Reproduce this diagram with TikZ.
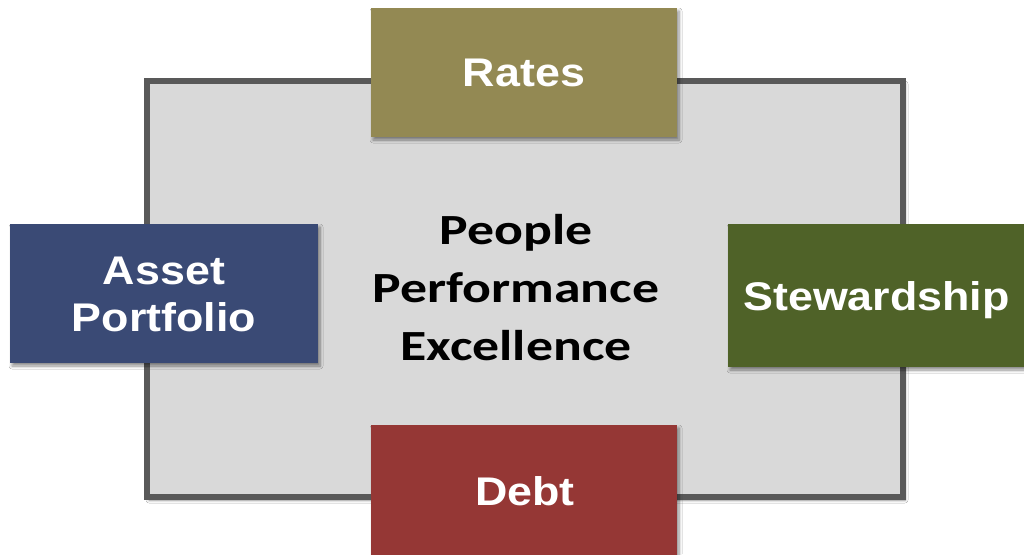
\documentclass[tikz,border=0pt]{standalone}
\usepackage{fontspec}
\usetikzlibrary{shadows.blur}
\newfontfamily\boxfont{Liberation Sans}[FakeStretch=1.12]
\newfontfamily\corefont{Carlito}[FakeStretch=1.25]
\definecolor{frameline}{HTML}{595959}
\definecolor{framefill}{HTML}{D9D9D9}
\definecolor{ratescol}{HTML}{938953}
\definecolor{assetcol}{HTML}{3A4A75}
\definecolor{stewcol}{HTML}{4F6228}
\definecolor{debtcol}{HTML}{953735}
\tikzset{
  softshadow/.style={blur shadow={shadow xshift=2pt, shadow yshift=-3pt,
      shadow blur radius=3pt, shadow blur steps=6, shadow opacity=45}},
  pillar/.style={rectangle, inner sep=0pt, draw=none, softshadow},
  pillartext/.style={text=white, inner sep=0pt, align=center,
      font={\boxfont\bfseries\fontsize{40}{46.5}\selectfont}},
  coretext/.style={text=black, inner sep=0pt, align=center,
      font={\corefont\bfseries\fontsize{43}{57.7}\selectfont}},
}
\begin{document}
\begin{tikzpicture}[x=1pt, y=-1pt]
  \useasboundingbox[fill=white] (0,0) rectangle (1024,554);

  % central frame
  \node[rectangle, draw=frameline, line width=6pt, fill=framefill, softshadow,
        minimum width=756pt, minimum height=416pt, inner sep=0pt]
        (frame) at (525,289) {};
  \node[coretext] (core) at (516,287.4) {People\\Performance\\Excellence};

  % four pillars around the frame
  \node[pillar, fill=ratescol, minimum width=306pt, minimum height=129pt]
        (rates) at (524,72.5) {};
  \node[pillartext] (ratesT) at (rates.center) {Rates};

  \node[pillar, fill=assetcol, minimum width=308pt, minimum height=139pt]
        (asset) at (164,293.5) {};
  \node[pillartext] (assetT) at (164,294.2) {Asset\\Portfolio};

  \node[pillar, fill=stewcol, minimum width=300pt, minimum height=143pt]
        (stew) at (878,295.5) {};
  \node[pillartext, anchor=base] (stewT) at (876.5,310) {Stewardship};

  \node[pillar, fill=debtcol, minimum width=306pt, minimum height=134pt]
        (debt) at (524,492) {};
  \node[pillartext, anchor=base] (debtT) at (525,505) {Debt};
\end{tikzpicture}
\end{document}
